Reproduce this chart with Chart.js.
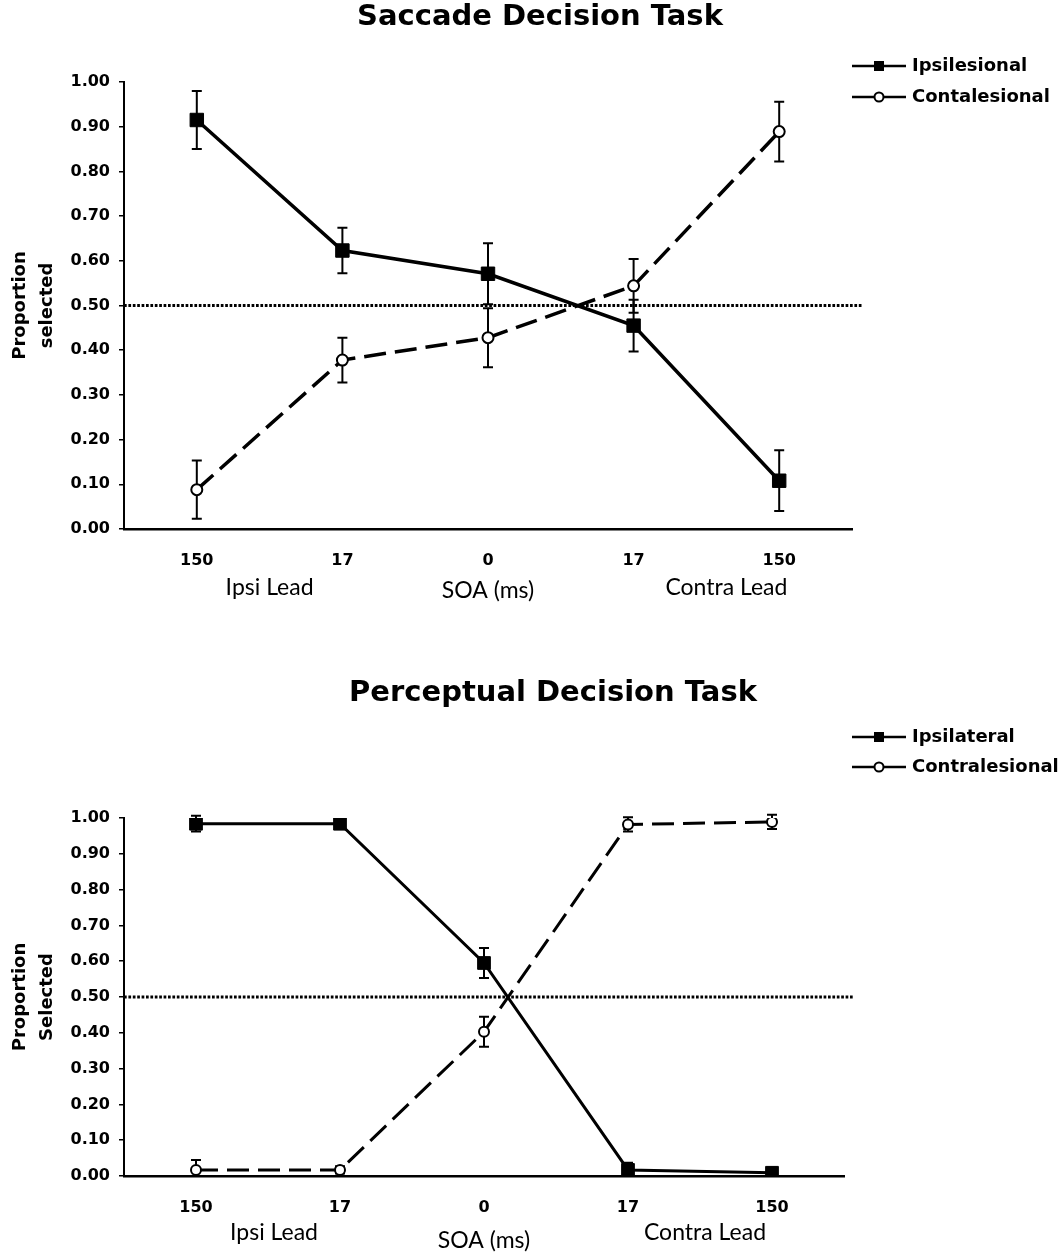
<!DOCTYPE html>
<html>
<head>
<meta charset="utf-8">
<script src="https://cdn.jsdelivr.net/npm/chart.js@4.4.1/dist/chart.umd.min.js"></script>
<style>
  html, body { margin: 0; padding: 0; background: #fff; }
  #wrap { position: relative; width: 1062px; height: 1255px; }
  canvas { position: absolute; left: 0; }
</style>
</head>
<body>
<div id="wrap">
  <canvas id="saccade" width="1062" height="625" style="top:0"></canvas>
  <canvas id="percept" width="1062" height="630" style="top:625px"></canvas>
</div>
<script>
// SOA conditions (ipsi lead ... contra lead)
const soaLabels = ['150', '17', '0', '17', '150'];

// Saccade decision task
const saccadeIpsi = [0.915, 0.623, 0.571, 0.455, 0.108];
const saccadeIpsiErr = [0.065, 0.051, 0.068, 0.058, 0.068];
const saccadeContra = [0.088, 0.378, 0.428, 0.544, 0.889];
const saccadeContraErr = [0.065, 0.050, 0.066, 0.060, 0.067];

// Perceptual decision task
const perceptIpsi = [0.984, 0.984, 0.595, 0.017, 0.009];
const perceptIpsiErr = [0.022, 0.010, 0.042, 0.020, 0.015];
const perceptContra = [0.017, 0.017, 0.403, 0.982, 0.989];
const perceptContraErr = [0.028, 0.010, 0.042, 0.020, 0.020];

const chance = 0.5;

const VER = '"DejaVu Sans", Verdana, sans-serif';
const CAL = 'Lato, "Open Sans", sans-serif';

// error bars + chance line under the marks, titles/legend on top
const decor = {
  id: 'decor',
  beforeDatasetsDraw(chart, args, o) {
    const { ctx, chartArea: a, scales: { x, y } } = chart;
    ctx.save();
    ctx.strokeStyle = '#000';
    ctx.lineWidth = 3;
    ctx.setLineDash([2.7, 1.7]);
    const yc = y.getPixelForValue(o.chance);
    ctx.beginPath();
    ctx.moveTo(a.left, yc);
    ctx.lineTo(a.right + 10, yc);
    ctx.stroke();
    ctx.setLineDash([]);

    ctx.lineWidth = 2;
    chart.data.datasets.forEach(ds => {
      ds.data.forEach((v, i) => {
        const px = x.getPixelForValue(i);
        const t = y.getPixelForValue(v + ds.err[i]);
        const b = y.getPixelForValue(Math.max(0, v - ds.err[i]));
        ctx.beginPath();
        ctx.moveTo(px, t); ctx.lineTo(px, b);
        ctx.moveTo(px - 5, t); ctx.lineTo(px + 5, t);
        ctx.moveTo(px - 5, b); ctx.lineTo(px + 5, b);
        ctx.stroke();
      });
    });
    ctx.restore();
  },
  afterDraw(chart, args, o) {
    const { ctx, scales: { x } } = chart;
    ctx.save();
    ctx.fillStyle = '#000';
    ctx.textBaseline = 'middle';

    ctx.font = 'bold 29px ' + VER;
    ctx.textAlign = 'center';
    ctx.fillText(o.title, o.titleX, o.titleY);

    // sub labels under the ticks
    ctx.font = '23px ' + CAL;
    const mid = (i, j) => (x.getPixelForValue(i) + x.getPixelForValue(j)) / 2;
    ctx.fillText('Ipsi Lead', mid(0, 1) + o.ipsiDx, o.subY);
    ctx.fillText('Contra Lead', mid(3, 4) + o.contraDx, o.subY);

    // legend
    ctx.font = 'bold 18px ' + VER;
    ctx.textAlign = 'left';
    chart.data.datasets.forEach((ds, i) => {
      const ly = o.legendY[i];
      ctx.strokeStyle = '#000';
      ctx.lineWidth = 2.5;
      ctx.beginPath();
      ctx.moveTo(852, ly); ctx.lineTo(906, ly);
      ctx.stroke();
      if (ds.pointStyle === 'rect') {
        ctx.fillRect(874, ly - 5, 10, 10);
      } else {
        ctx.beginPath();
        ctx.arc(879, ly, 4.5, 0, Math.PI * 2);
        ctx.fillStyle = '#fff';
        ctx.fill();
        ctx.lineWidth = 2;
        ctx.stroke();
        ctx.fillStyle = '#000';
      }
      ctx.fillText(ds.label, 912, ly);
    });
    ctx.restore();
  }
};

function decisionChart(canvas, c) {
  return new Chart(canvas, {
    type: 'line',
    data: {
      labels: soaLabels,
      datasets: [{
        label: c.names[0],
        data: c.ipsi,
        err: c.ipsiErr,
        borderColor: '#000',
        borderWidth: c.lw,
        pointStyle: 'rect',
        pointRadius: c.sq,
        pointBackgroundColor: '#000',
        pointBorderColor: '#000',
        pointBorderWidth: 1,
      }, {
        label: c.names[1],
        data: c.contra,
        err: c.contraErr,
        borderColor: '#000',
        borderWidth: c.lw,
        borderDash: [22, 9],
        pointStyle: 'circle',
        pointRadius: c.ci,
        pointBackgroundColor: '#fff',
        pointBorderColor: '#000',
        pointBorderWidth: 2,
      }],
    },
    options: {
      responsive: false,
      animation: false,
      devicePixelRatio: 1,
      layout: { padding: { top: c.padTop, right: c.padRight, left: 0, bottom: 0 } },
      plugins: {
        legend: { display: false },
        tooltip: { enabled: false },
        decor: c.decor,
      },
      scales: {
        x: {
          offset: true,
          grid: { display: false, drawTicks: false },
          border: { color: '#000', width: 2.5 },
          ticks: { color: '#000', padding: 22, font: { family: VER, size: 16, weight: 'bold' } },
          title: {
            display: true, text: 'SOA (ms)', color: '#000',
            font: { family: CAL, size: 23 }, padding: { top: 0, bottom: c.soaPad },
          },
          afterFit(s) { s.height = c.xh; },
        },
        y: {
          min: 0, max: 1,
          grid: { drawOnChartArea: false, tickLength: 5, color: '#000', lineWidth: 1.5 },
          border: { color: '#000', width: 2 },
          ticks: {
            stepSize: 0.1, padding: 9, color: '#000',
            font: { family: VER, size: 16, weight: 'bold' },
            callback: v => v.toFixed(2),
          },
          title: {
            display: true, text: ['Proportion', c.ySecond], color: '#000',
            font: { family: VER, size: 18, weight: 'bold', lineHeight: '27px' },
            padding: { top: 7, bottom: 0 },
          },
          afterFit(s) { s.width = 124; },
        },
      },
    },
    plugins: [decor],
  });
}

decisionChart(document.getElementById('saccade'), {
  names: ['Ipsilesional', 'Contalesional'],
  ipsi: saccadeIpsi, ipsiErr: saccadeIpsiErr,
  contra: saccadeContra, contraErr: saccadeContraErr,
  ySecond: 'selected',
  lw: 3.5, sq: 9.5, ci: 5.5,
  padTop: 82, padRight: 210, xh: 96, soaPad: 21,
  decor: {
    chance, title: 'Saccade Decision Task', titleX: 540, titleY: 17.5,
    subY: 588, ipsiDx: 0, contraDx: 20, legendY: [66, 97],
  },
});

decisionChart(document.getElementById('percept'), {
  names: ['Ipsilateral', 'Contralesional'],
  ipsi: perceptIpsi, ipsiErr: perceptIpsiErr,
  contra: perceptContra, contraErr: perceptContraErr,
  ySecond: 'Selected',
  lw: 3, sq: 9, ci: 5,
  padTop: 193, padRight: 218, xh: 79, soaPad: 1,
  decor: {
    chance, title: 'Perceptual Decision Task', titleX: 553, titleY: 68,
    subY: 608, ipsiDx: 6, contraDx: 5, legendY: [112, 142],
  },
});
</script>
</body>
</html>
